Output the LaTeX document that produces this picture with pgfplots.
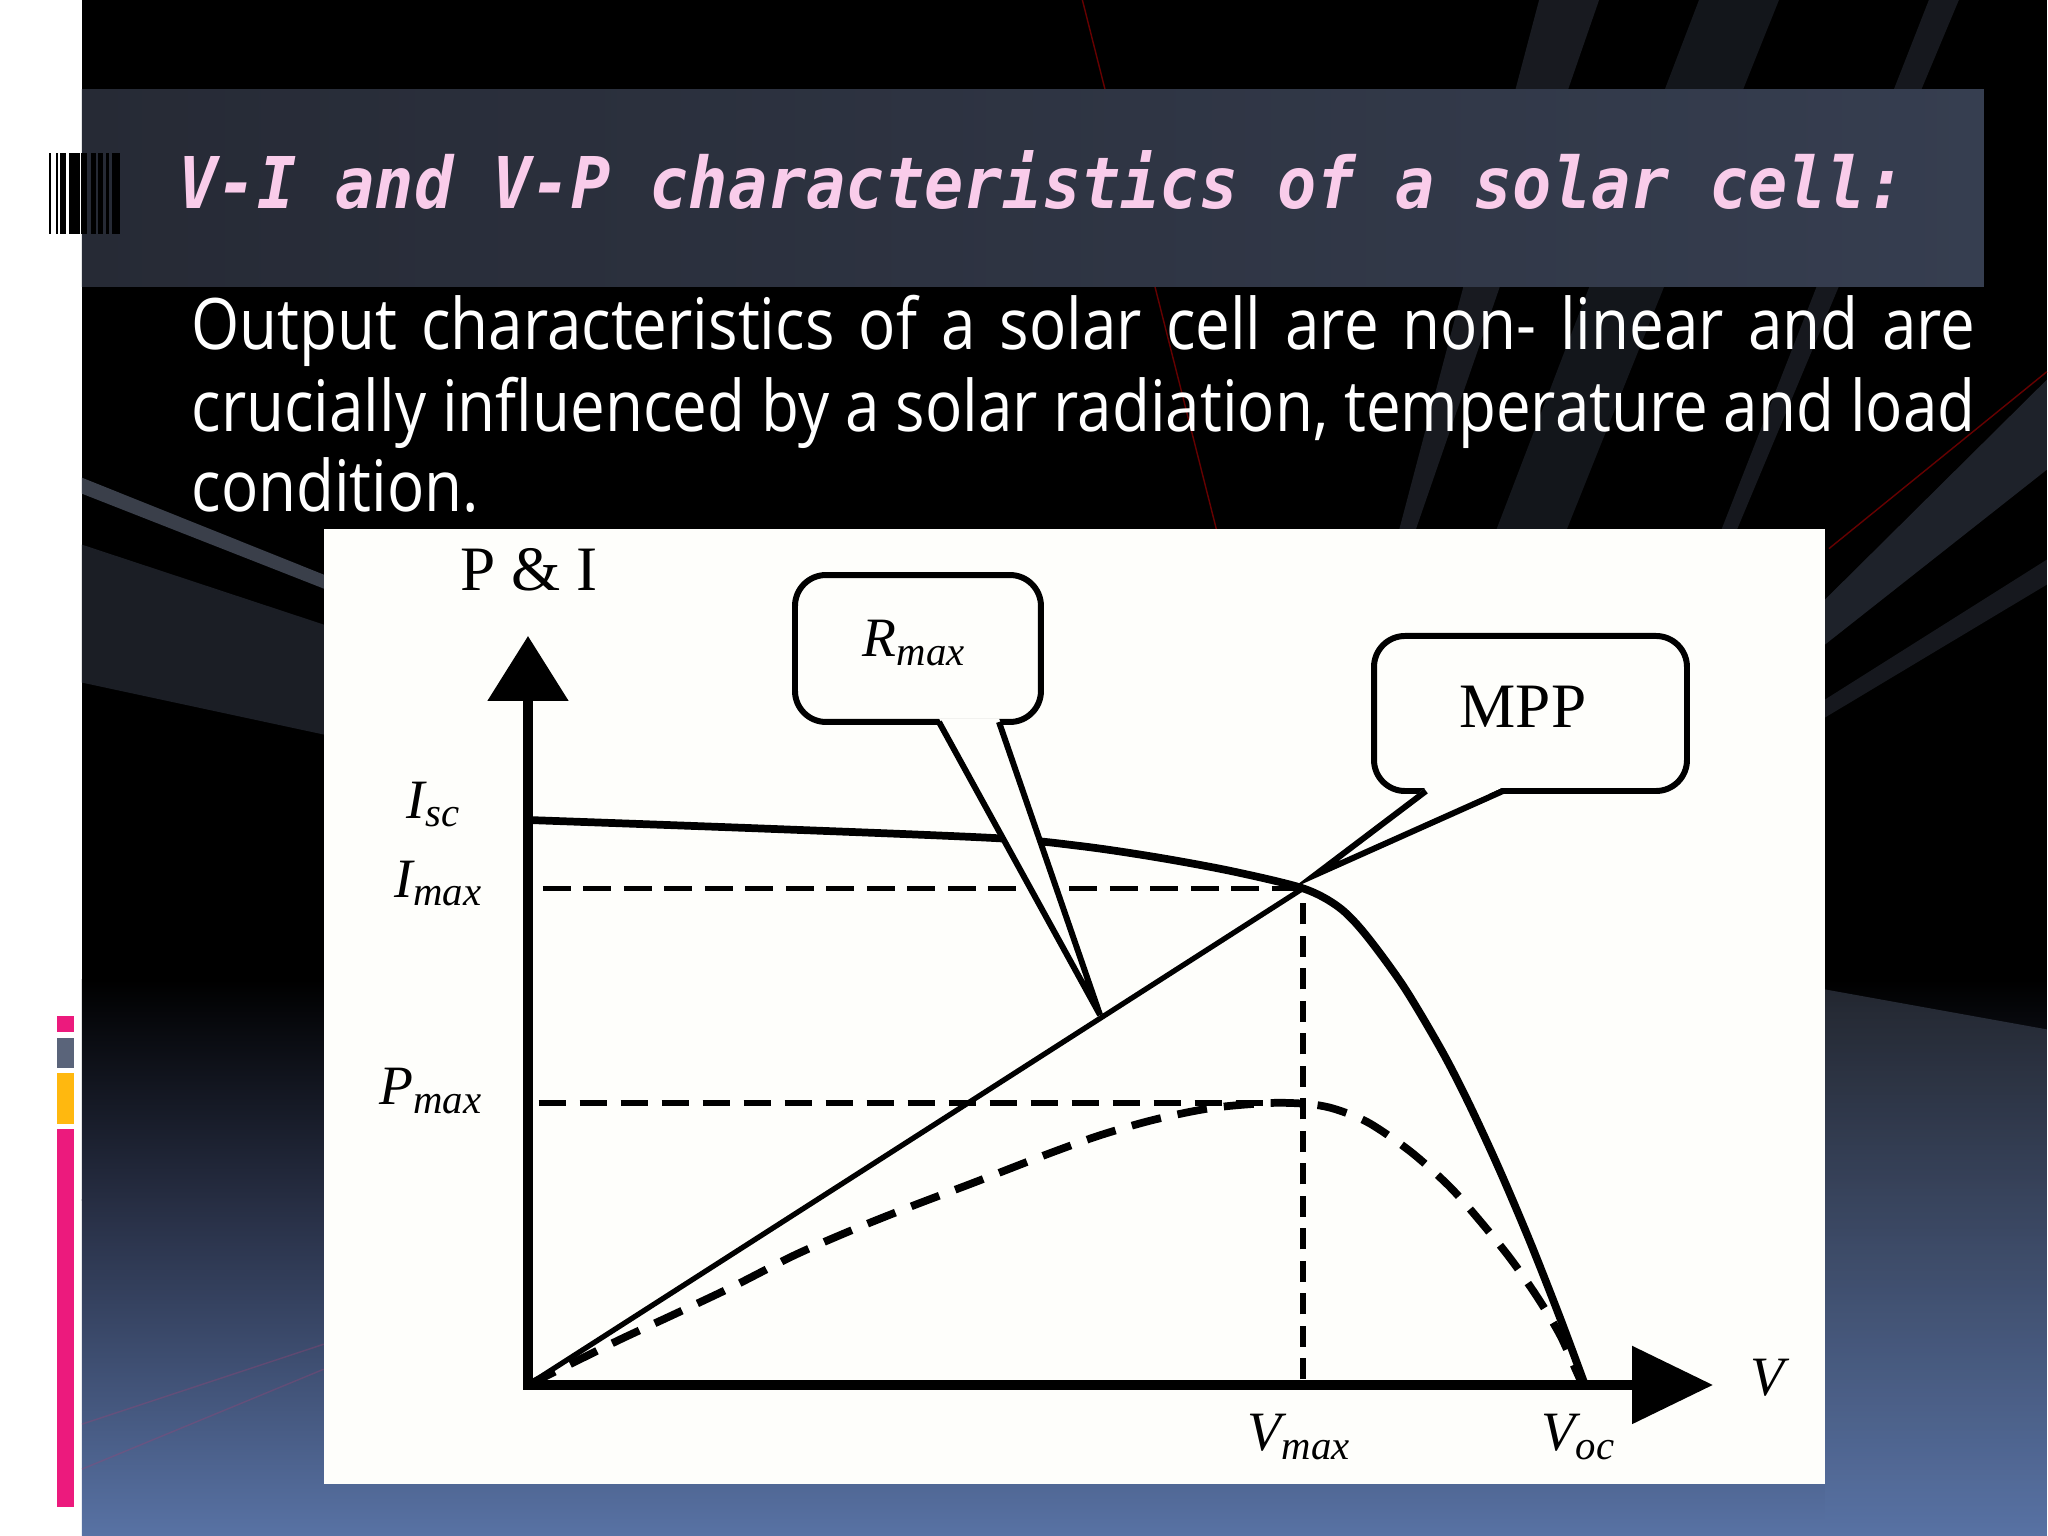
\documentclass[border=0pt]{standalone}
\usepackage{fontspec}
\usepackage{graphicx}
\usepackage{pgfplots}
\usepackage{pgfplotstable}
\pgfplotsset{compat=1.18}
\usetikzlibrary{arrows.meta}
\setmainfont{Liberation Serif}
\newfontfamily\titlefont{DejaVu Sans Mono}
\newfontfamily\bodyfont{Open Sans}
\definecolor{pinkbar}{HTML}{EC1A7D}
\definecolor{graybar}{HTML}{5A647A}
\definecolor{yellowbar}{HTML}{FFB80F}
\definecolor{barL}{HTML}{262A35}
\definecolor{barR}{HTML}{363E50}
\definecolor{titlepink}{HTML}{F9CCEA}
\definecolor{midnavy}{HTML}{262D42}
\definecolor{bluebot}{HTML}{5872A4}
\definecolor{panel}{HTML}{FEFEFB}
\definecolor{streak}{HTML}{2C313C}
\definecolor{beamA}{HTML}{3A3F4A}
\definecolor{beamB}{HTML}{1B1E25}
\newlength\titlew
\newlength\linetwo
\newcommand\titlestyle{\titlefont\bfseries\itshape\fontsize{20.3}{24}\selectfont}
\newcommand\bodystyle{\bodyfont\fontsize{20.2}{24}\selectfont}
\newcommand\lab[2]{{\fontsize{15.8}{16}\selectfont\itshape #1}\raisebox{-2.3pt}{\fontsize{11.6}{12}\selectfont\itshape #2}}

% V-I curve (V normalised to Voc, I normalised to Isc)
\pgfplotstableread{
v i
0.0000 1.0000
0.2200 0.9850
0.4418 0.9680
0.5222 0.9540
0.5932 0.9345
0.6651 0.9097
0.7332 0.8790
0.7668 0.8461
0.7919 0.7984
0.8284 0.7053
0.8647 0.5910
0.8903 0.4976
0.9186 0.3830
0.9480 0.2536
0.9768 0.1168
1.0000 0.0000
}\ivdata
% V-P curve
\pgfplotstableread{
v p
0.0000 0.0000
0.0431 0.0398
0.0870 0.0804
0.1410 0.1274
0.1949 0.1752
0.2526 0.2301
0.3100 0.2768
0.3642 0.3173
0.4216 0.3580
0.4917 0.4088
0.5421 0.4425
0.5932 0.4699
0.6471 0.4903
0.7016 0.4991
0.7379 0.4973
0.7632 0.4885
0.7957 0.4637
0.8354 0.4124
0.8718 0.3513
0.9007 0.2903
0.9297 0.2230
0.9551 0.1549
0.9768 0.0871
0.9948 0.0124
1.0000 0.0000
}\pvdata

\begin{document}%
\settowidth\titlew{\titlestyle V-I and V-P characteristics of a solar cell:}%
\settowidth\linetwo{\bodystyle crucially influenced by a solar radiation, temperature and load}%
\pgfmathsetmacro\titlescale{17.27cm/\titlew}%
\pgfmathsetmacro\bodyscale{17.84cm/\linetwo}%
\begin{tikzpicture}
\useasboundingbox (0,0) rectangle (20.48cm,15.36cm);
\begin{scope}[x=0.01cm,y=-0.01cm,shift={(0,15.36cm)}]
  % background
  \fill[white] (0,0) rectangle (82,1536);
  \fill[black] (82,0) rectangle (2048,1536);
  \shade[top color=black, bottom color=midnavy] (82,980) rectangle (2048,1201);
  \shade[top color=midnavy, bottom color=bluebot] (82,1200) rectangle (2048,1536);
  \shade[top color=streak, bottom color=bluebot, opacity=0.8] (1826,990) -- (2048,1030) -- (2048,1536) -- (1826,1536) -- cycle;
  % streaks
  \fill[streak, opacity=0.55] (1540,0) -- (1600,0) -- (1410,549) -- (1395,549) -- cycle;
  \fill[streak, opacity=0.45] (1700,0) -- (1780,0) -- (1560,549) -- (1490,549) -- cycle;
  \fill[streak, opacity=0.5] (1930,0) -- (1960,0) -- (1730,549) -- (1715,549) -- cycle;
  \fill[streak, opacity=0.7] (1826,600) -- (2048,380) -- (2048,470) -- (1826,645) -- cycle;
  \fill[streak, opacity=0.5] (1826,700) -- (2048,560) -- (2048,585) -- (1826,718) -- cycle;
  \draw[red!40!black, line width=0.4pt] (1083,0) -- (1222,549);
  \draw[red!40!black, line width=0.4pt] (1830,549) -- (2048,372);
  \fill[beamA] (82,478) -- (324,575) -- (324,589) -- (82,494) -- cycle;
  \fill[beamB] (82,545) -- (324,625) -- (324,735) -- (82,683) -- cycle;
  \draw[magenta!60!black, opacity=0.35, line width=0.4pt] (82,1425) -- (324,1345);
  \draw[magenta!60!black, opacity=0.35, line width=0.4pt] (82,1470) -- (324,1370);
  % coloured bars
  \fill[pinkbar] (57,1017) rectangle (74,1033);
  \fill[graybar] (57,1039) rectangle (74,1069);
  \fill[yellowbar] (57,1074) rectangle (74,1125);
  \fill[pinkbar] (57,1130) rectangle (74,1508);
  % title bar
  \shade[left color=barL, right color=barR] (82,90) rectangle (1985,287);
  % barcode
  \foreach \a/\b in {49.5/51.5, 56/58.5, 60.5/66.5, 69/80, 81.5/87.5, 91/96, 98/103, 106/109, 112/120}
    \fill[black] (\a,153) rectangle (\b,234);
  % title
  \node[anchor=base west, inner sep=0, text=titlepink] at (178,209)
    {\scalebox{\titlescale}[1]{\titlestyle V-I and V-P characteristics of a solar cell:}};
  % body text
  \node[anchor=base west, inner sep=0, text=white] at (191,350)
    {\scalebox{\bodyscale}[1]{\makebox[\linetwo][s]{\bodystyle Output characteristics of a solar cell are non- linear and are}}};
  \node[anchor=base west, inner sep=0, text=white] at (191,432)
    {\scalebox{\bodyscale}[1]{\bodystyle crucially influenced by a solar radiation, temperature and load}};
  \node[anchor=base west, inner sep=0, text=white] at (191,512)
    {\scalebox{\bodyscale}[1]{\bodystyle condition.}};
  % chart panel
  \fill[panel] (324,529) rectangle (1826,1485);
\end{scope}

\begin{axis}[
  at={(5.28cm,1.51cm)}, anchor=south west,
  scale only axis, width=11.85cm, height=7.49cm,
  xmin=0, xmax=1.1211, ymin=0, ymax=1.3257,
  axis lines=left,
  axis line style={line width=2.6pt, line cap=rect},
  x axis line style={-{Triangle[length=0.81cm,width=0.76cm]}},
  y axis line style={-{Triangle[length=0.65cm,width=0.79cm]}},
  xtick=\empty, ytick=\empty,
  clip=false,
]
  \addplot[black, line width=2.2pt, smooth, tension=0.5, mark=none] table[x=v,y=i]{\ivdata};
  \addplot[black, line width=2.2pt, smooth, tension=0.5, mark=none, dash pattern=on 0.30cm off 0.17cm] table[x=v,y=p]{\pvdata};
  \addplot[black, line width=1.5pt, mark=none] coordinates {(0,0) (0.7332,0.879)};
  \addplot[black, line width=1.6pt, mark=none, dash pattern=on 0.28cm off 0.125cm] coordinates {(0.014,0.879) (0.7332,0.879)};
  \addplot[black, line width=1.7pt, mark=none, dash pattern=on 0.27cm off 0.14cm] coordinates {(0.01,0.4991) (0.7332,0.4991)};
  \addplot[black, line width=1.6pt, mark=none, dash pattern=on 0.21cm off 0.115cm] coordinates {(0.7332,0.01) (0.7332,0.879)};

  % Rmax callout
  \draw[line width=1.7pt, rounded corners=0.31cm, fill=panel] (axis cs:0.2526,1.1735) rectangle (axis cs:0.4853,1.4336);
  \fill[panel] (axis cs:0.3888,1.1800) -- (axis cs:0.4456,1.1800) -- (axis cs:0.5412,0.6549) -- cycle;
  \draw[line width=1.7pt] (axis cs:0.3888,1.1735) -- (axis cs:0.5412,0.6549) -- (axis cs:0.4456,1.1735);
  \node[anchor=base west, inner sep=0] at (axis cs:0.316,1.2885) {\lab{R}{max}};

  % MPP callout
  \draw[line width=1.7pt, rounded corners=0.31cm, fill=panel] (axis cs:0.8004,1.0513) rectangle (axis cs:1.0965,1.3257);
  \fill[panel] (axis cs:0.8496,1.0578) -- (axis cs:0.9224,1.0578) -- (axis cs:0.7446,0.9027) -- cycle;
  \draw[line width=1.7pt] (axis cs:0.8496,1.0513) -- (axis cs:0.7446,0.9027) -- (axis cs:0.9224,1.0513);
  \node[anchor=base west, inner sep=0] at (axis cs:0.8808,1.1637) {\fontsize{18}{20}\selectfont MPP};

  % labels
  \node[anchor=base west, inner sep=0] at (axis cs:-0.0643,1.407) {\fontsize{18}{20}\selectfont P \& I};
  \node[anchor=base east, inner sep=0] at (axis cs:-0.0643,1.0035) {\lab{I}{sc}};
  \node[anchor=base east, inner sep=0] at (axis cs:-0.0435,0.8637) {\lab{I}{max}};
  \node[anchor=base east, inner sep=0] at (axis cs:-0.0435,0.4956) {\lab{P}{max}};
  \node[anchor=base west, inner sep=0] at (axis cs:0.6802,-0.1168) {\lab{V}{max}};
  \node[anchor=base west, inner sep=0] at (axis cs:0.9584,-0.1168) {\lab{V}{oc}};
  \node[anchor=base west, inner sep=0] at (axis cs:1.1561,-0.0195) {\lab{V}{}};
\end{axis}
\end{tikzpicture}%
\end{document}
